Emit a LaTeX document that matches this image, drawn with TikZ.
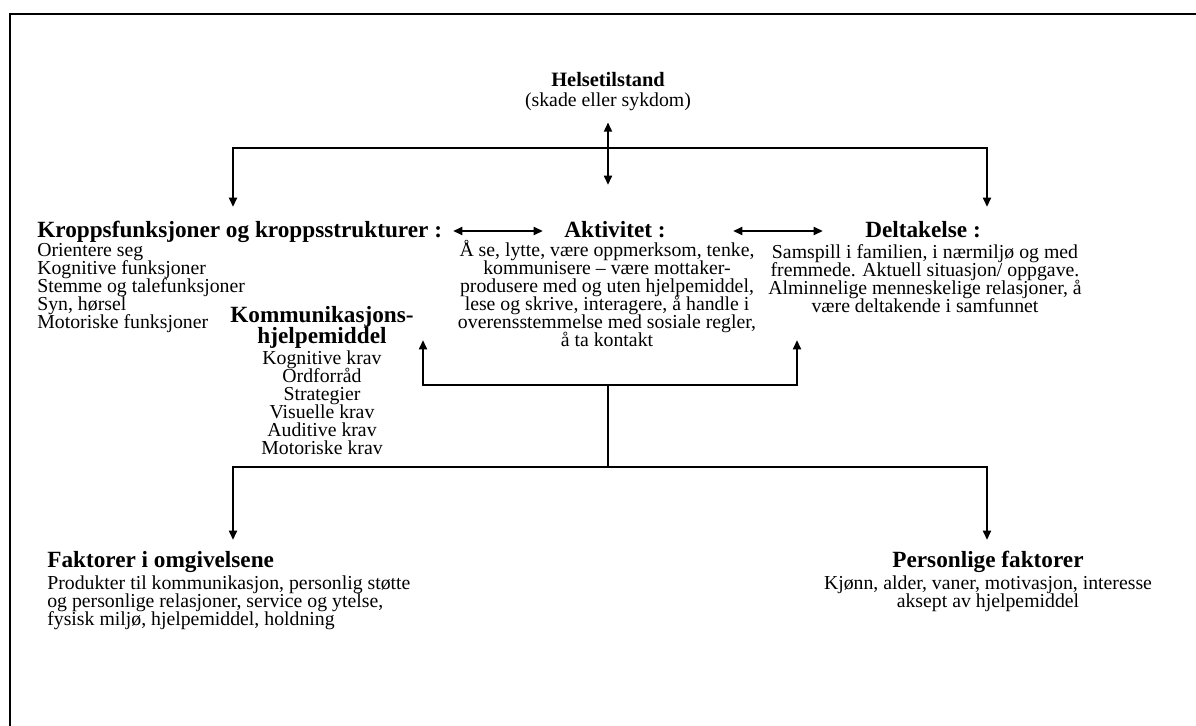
\documentclass[tikz,border=0pt]{standalone}
\usepackage{fontspec}
\setmainfont{Liberation Serif}
\usetikzlibrary{arrows.meta,positioning}
\newcommand\tightlines{\lineskiplimit=-20pt\relax\lineskip=0pt\relax}

\begin{document}
\begin{tikzpicture}[x=0.637pt, y=-0.637pt, >={Triangle[length=6pt,width=5pt]},
    headtxt/.style = {font=\fontsize{14.8}{11.5}\selectfont\bfseries\tightlines, inner sep=0pt},
    bodytxt/.style = {font=\fontsize{12.6}{11.5}\selectfont\tightlines, inner sep=0pt},
    wire/.style = {line width=1.5pt}]
    \useasboundingbox (0,0) rectangle (1196,726);
    \draw[line width=1.7pt] (10,726) -- (10,14) -- (1196,14);

    \node[headtxt, font=\fontsize{13}{11.5}\selectfont\bfseries] (helse) at (608,80) {Helsetilstand};
    \node[bodytxt] (helsesub) at (608,102) {(skade eller sykdom)};

    \node[headtxt, anchor=base west] (kropph) at (37,237) {Kroppsfunksjoner og kroppsstrukturer :};
    \node[bodytxt, align=left, anchor=north west] (kroppl) at (37,243) {Orientere seg\\Kognitive funksjoner\\Stemme og talefunksjoner\\Syn, hørsel\\Motoriske funksjoner};

    \node[headtxt, anchor=base] (aktivh) at (615,237) {Aktivitet :};
    \node[bodytxt, align=center, anchor=north] (aktivl) at (607,240) {Å se, lytte, være oppmerksom, tenke,\\kommunisere – være mottaker-\\produsere med og uten hjelpemiddel,\\lese og skrive, interagere, å handle i\\overensstemmelse med sosiale regler,\\å ta kontakt};

    \node[headtxt, anchor=base] (deltah) at (923,237) {Deltakelse :};
    \node[bodytxt, align=center, anchor=north] (deltal) at (925,244) {Samspill i familien, i nærmiljø og med\\fremmede. Aktuell situasjon/ oppgave.\\Alminnelige menneskelige relasjoner, å\\være deltakende i samfunnet};

    \node[headtxt, font=\fontsize{14.8}{13.2}\selectfont\bfseries\tightlines, align=center, anchor=north] (hjelph) at (322,306) {Kommunikasjons-\\hjelpemiddel};
    \node[bodytxt, align=center, anchor=north] (hjelpl) at (322,350) {Kognitive krav\\Ordforråd\\Strategier\\Visuelle krav\\Auditive krav\\Motoriske krav};

    \node[headtxt, anchor=base west] (omgivh) at (47,567) {Faktorer i omgivelsene};
    \node[bodytxt, align=left, anchor=north west] (omgivl) at (47,575) {Produkter til kommunikasjon, personlig støtte\\og personlige relasjoner, service og ytelse,\\fysisk miljø, hjelpemiddel, holdning};

    \node[headtxt, anchor=base] (personh) at (988,567) {Personlige faktorer};
    \node[bodytxt, align=center, anchor=north] (personl) at (988,575) {Kjønn, alder, vaner, motivasjon, interesse\\aksept av hjelpemiddel};

    % junctions and arrow ends
    \coordinate (topbar) at (608,148);
    \coordinate (helsein) at (608,185);
    \coordinate (kroppin) at (233,207);
    \coordinate (deltain) at (987,207);
    \coordinate (midbar) at (608,385);
    \coordinate (lowbar) at (608,467);
    \coordinate (hjelpin) at (423,340);
    \coordinate (aktivin) at (797,340);
    \coordinate (omgivin) at (233,540);
    \coordinate (personin) at (987,540);
    \coordinate (kroppout) at (453,231);
    \coordinate (aktivout) at (543,231);
    \coordinate (aktivout2) at (733,231);
    \coordinate (deltaout) at (823,231);

    \draw[wire, <->, shorten <=7pt] (helsesub.south) -- (helsein);
    \draw[wire, <->] (kroppin) |- (deltain |- topbar) -- (deltain);
    \draw[wire, <->] (kroppout) -- (aktivout);
    \draw[wire, <->] (aktivout2) -- (deltaout);
    \draw[wire, <->] (hjelpin) |- (aktivin |- midbar) -- (aktivin);
    \draw[wire] (midbar) -- (lowbar);
    \draw[wire, <->] (omgivin) |- (personin |- lowbar) -- (personin);
\end{tikzpicture}
\end{document}
